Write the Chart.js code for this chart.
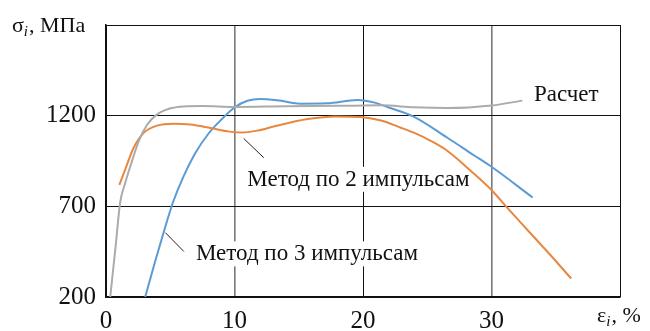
<!DOCTYPE html>
<html>
<head>
<meta charset="utf-8">
<script src="https://cdn.jsdelivr.net/npm/chart.js@4"></script>
<style>
  html, body { margin: 0; padding: 0; background: #fff; }
  .wrap { position: relative; width: 650px; height: 331px; }
  canvas { display: block; }
  .axis-title {
    position: absolute;
    font-family: "Liberation Serif", serif;
    font-size: 22px;
    line-height: 22px;
    color: #111;
    white-space: nowrap;
  }
  .axis-title i { font-size: 15px; position: relative; top: 4px; margin-right: 1px; }
  .t-y { left: 12px; top: 14px; }
  .t-x { left: 597px; top: 304px; }
</style>
</head>
<body>
<div class="wrap">
  <canvas id="chart" width="650" height="331"></canvas>
  <div class="axis-title t-y">σ<i>i</i>, МПа</div>
  <div class="axis-title t-x">ε<i>i</i>, %</div>
</div>
<script>
// Strain, % (x) and stress, MPa (y) for each curve
const calcStrain = [0.33, 0.75, 1.1, 1.5, 2.0, 2.55, 3.2, 3.9, 4.9, 6.05, 7.5, 10, 14, 18, 21.4, 24, 26.6, 30, 32.4];
const calcStress = [200, 480, 720, 830, 945, 1060, 1150, 1203, 1238, 1251, 1253, 1248, 1252, 1254, 1257, 1246, 1242, 1256, 1283];

const twoPulseStrain = [1.04, 1.5, 2.15, 2.93, 3.97, 5.27, 6.57, 8.13, 9.6, 10.6, 11.8, 13.2, 15.7, 17.8, 19.8, 21.4, 22.9, 24, 25.3, 26.6, 28.4, 30, 31.25, 34.6, 36.2];
const twoPulseStress = [818, 904, 1023, 1105, 1145, 1156, 1151, 1132, 1112, 1107, 1118, 1143, 1181, 1196, 1193, 1173, 1135, 1105, 1060, 1004, 895, 790, 690, 430, 302];

const threePulseStrain = [3.05, 3.8, 4.49, 5.2, 6.0, 7.0, 8.0, 9.0, 10.0, 11.0, 12.0, 13.5, 15.1, 17.2, 19.56, 20.9, 22.0, 23.9, 26.6, 28.6, 30, 33.2];
const threePulseStress = [200, 390, 557, 720, 860, 1000, 1103, 1180, 1245, 1282, 1292, 1283, 1266, 1268, 1286, 1272, 1245, 1196, 1077, 983, 918, 749];

// Axis tick labels
const xTickLabels = [0, 10, 20, 30];
const yTickLabels = [200, 700, 1200];

// Curve captions
const captionCalc = 'Расчет';
const captionTwo = 'Метод по 2 импульсам';
const captionThree = 'Метод по 3 импульсам';

const SERIF = '"Liberation Serif"';

const canvas = document.getElementById('chart');

function points(xs, ys) {
  return xs.map((x, i) => ({ x: x, y: ys[i] }));
}

function curve(label, xs, ys, color) {
  return {
    label: label,
    data: points(xs, ys),
    borderColor: color,
    borderWidth: 2,
    pointRadius: 0,
    fill: false,
    cubicInterpolationMode: 'monotone'
  };
}

// Caption with white backing and an optional leader line (positions in data units)
function caption(ctx, xs, ys, text, at, leader) {
  ctx.save();
  ctx.font = '23px ' + SERIF;
  const px = xs.getPixelForValue(at[0]);
  const py = ys.getPixelForValue(at[1]);
  const w = ctx.measureText(text).width;
  ctx.fillStyle = '#fff';
  ctx.fillRect(px - 3, py - 19, w + 6, 25);
  ctx.fillStyle = '#111';
  ctx.textBaseline = 'alphabetic';
  ctx.textAlign = 'left';
  ctx.fillText(text, px, py);
  if (leader) {
    ctx.strokeStyle = '#222';
    ctx.lineWidth = 1;
    ctx.beginPath();
    ctx.moveTo(xs.getPixelForValue(leader[0]), ys.getPixelForValue(leader[1]));
    ctx.lineTo(xs.getPixelForValue(leader[2]), ys.getPixelForValue(leader[3]));
    ctx.stroke();
  }
  ctx.restore();
}

const notes = {
  id: 'notes',
  beforeDatasetsDraw(chart) {
    const { ctx, scales: { x, y } } = chart;
    caption(ctx, x, y, captionCalc, [33.3, 1282]);
    caption(ctx, x, y, captionTwo, [11.0, 813], [10.72, 1074, 12.28, 968]);
    caption(ctx, x, y, captionThree, [7.0, 402], [4.62, 555, 6.06, 451]);
  }
};

function gridColor(ctx) {
  const v = ctx.tick ? ctx.tick.value : null;
  return (v === 10 || v === 30) ? '#7a7a7a' : '#111';
}
function gridWidth(ctx) {
  const v = ctx.tick ? ctx.tick.value : null;
  return (v === 10 || v === 30) ? 1.6 : 1;
}

const chart = new Chart(canvas, {
  type: 'line',
  data: {
    datasets: [
      curve(captionCalc, calcStrain, calcStress, '#ababab'),
      curve(captionTwo, twoPulseStrain, twoPulseStress, '#e8873f'),
      curve(captionThree, threePulseStrain, threePulseStress, '#5b9bd5')
    ]
  },
  options: {
    responsive: false,
    animation: false,
    layout: { padding: { left: 0, top: 24, right: 30, bottom: 0 } },
    plugins: { legend: { display: false }, tooltip: { enabled: false } },
    scales: {
      x: {
        type: 'linear',
        min: 0,
        max: 40,
        afterFit: s => { s.height = 34; },
        ticks: {
          stepSize: 10,
          padding: 9,
          color: '#111',
          font: { family: SERIF, size: 25 },
          callback: v => xTickLabels.includes(v) ? String(v) : ''
        },
        grid: { color: gridColor, lineWidth: gridWidth, drawTicks: false },
        border: { color: '#111', width: 1.5 }
      },
      y: {
        min: 200,
        max: 1700,
        afterFit: s => { s.width = 106; },
        ticks: {
          stepSize: 500,
          padding: 10,
          color: '#111',
          font: { family: SERIF, size: 25 },
          callback: v => yTickLabels.includes(v) ? String(v) : ''
        },
        grid: { color: '#111', lineWidth: 1, drawTicks: false },
        border: { color: '#111', width: 1.5 }
      }
    }
  },
  plugins: [notes]
});

// Redraw once page text has laid out so the canvas uses the same serif face
document.fonts.ready.then(() => chart.update('none'));
</script>
</body>
</html>
